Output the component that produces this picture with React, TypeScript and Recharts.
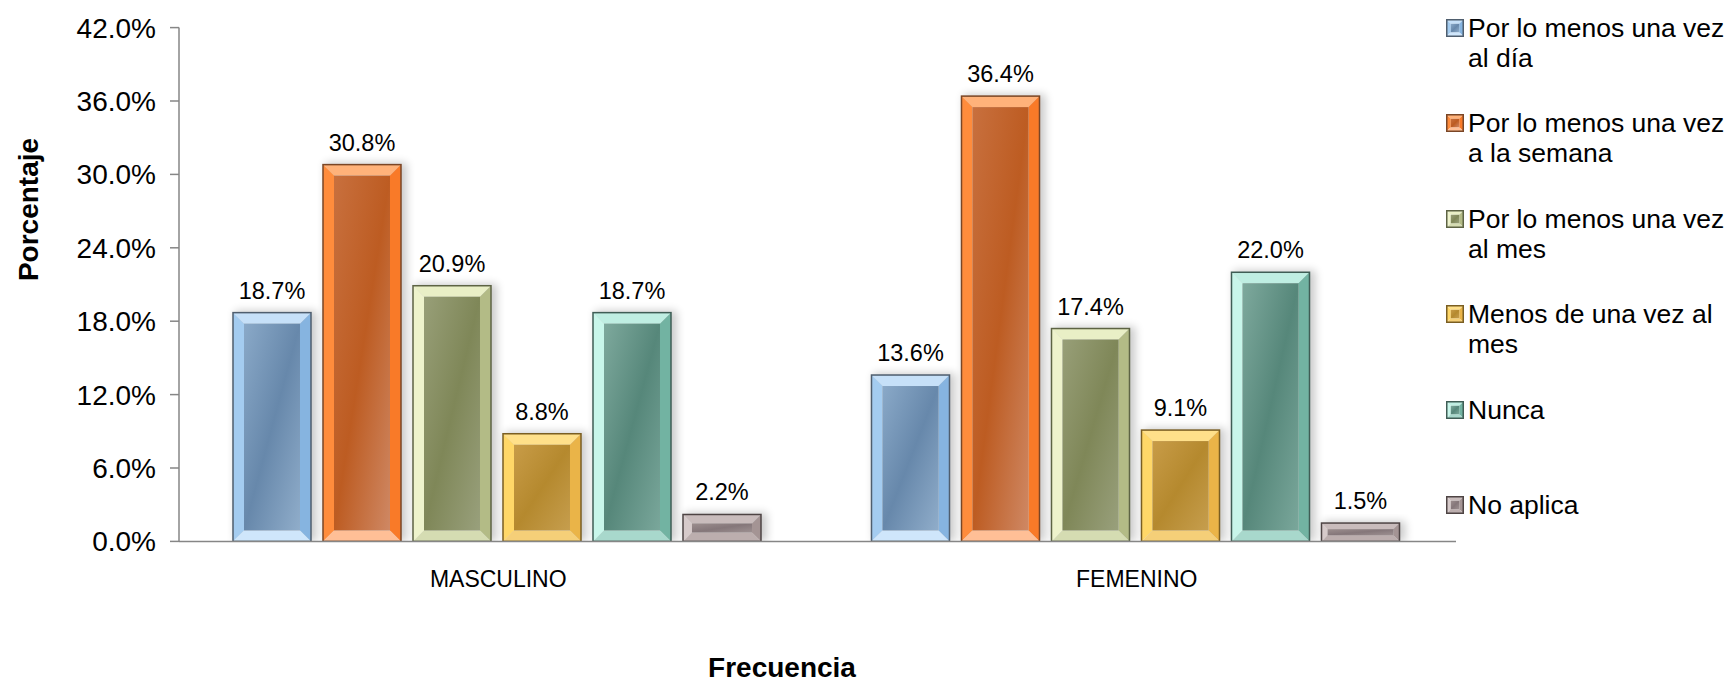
import React from 'react';
import { BarChart, Bar, XAxis, YAxis, LabelList, Legend } from 'recharts';

const categories = ['MASCULINO', 'FEMENINO'];
const seriesNames = [
  'Por lo menos una vez al día',
  'Por lo menos una vez a la semana',
  'Por lo menos una vez al mes',
  'Menos de una vez al mes',
  'Nunca',
  'No aplica',
];
const alDia = [18.7, 13.6];
const semana = [30.8, 36.4];
const mes = [20.9, 17.4];
const menosMes = [8.8, 9.1];
const nunca = [18.7, 22.0];
const noAplica = [2.2, 1.5];
const yTicks = [0, 6, 12, 18, 24, 30, 36, 42];

const seriesValues = [alDia, semana, mes, menosMes, nunca, noAplica];
const data = categories.map((c, i) => {
  const row: any = { category: c };
  seriesValues.forEach((v, k) => {
    row['s' + k] = v[i];
  });
  return row;
});

const FONT = '"Liberation Sans", Arial, Helvetica, sans-serif';

const palettes = [
  { stroke: '#4f5e6e', top: '#c6e0f8', left: '#a4ccf0', right: '#86b4e0', bottom: '#cfe6fb', in1: '#8aa9c8', in2: '#6788ab', in3: '#90adca' },
  { stroke: '#7a4626', top: '#ffb27a', left: '#ff8c3c', right: '#f97a28', bottom: '#ffbf96', in1: '#c8703e', in2: '#bd5c22', in3: '#cf8864' },
  { stroke: '#5d6344', top: '#e9efc6', left: '#eef3cc', right: '#b3bb86', bottom: '#d5dcb2', in1: '#989f78', in2: '#7f8758', in3: '#99a07c' },
  { stroke: '#7a5e22', top: '#ffe08a', left: '#ffd768', right: '#eab448', bottom: '#f5cf78', in1: '#c89c48', in2: '#b5892e', in3: '#c69e4e' },
  { stroke: '#3f5d55', top: '#bfeee2', left: '#c8f6ea', right: '#72b3a2', bottom: '#a8d8cc', in1: '#7ea99d', in2: '#56877a', in3: '#7aa79b' },
  { stroke: '#4e4444', top: '#c9bcbc', left: '#d6caca', right: '#a49494', bottom: '#bcaeae', in1: '#9c8e8e', in2: '#85777a', in3: '#9d9091' },
];

const bevel = (pi: number, x: number, y: number, w: number, h: number, b: number, id: string, shadow: boolean) => {
  const p = palettes[pi];
  const x2 = x + w;
  const y2 = y + h;
  return (
    <g>
      <defs>
        <linearGradient id={id} x1="0" y1="0" x2="1" y2="1">
          <stop offset="0%" stopColor={p.in1} />
          <stop offset="50%" stopColor={p.in2} />
          <stop offset="100%" stopColor={p.in3} />
        </linearGradient>
        {shadow && (
          <filter id={id + 'f'} x="-30%" y="-30%" width="160%" height="160%">
            <feGaussianBlur stdDeviation="4" />
          </filter>
        )}
      </defs>
      {shadow && (
        <rect x={x + 2} y={y - 2} width={w + 4} height={h + 2} fill="#000" opacity={0.2} filter={`url(#${id}f)`} />
      )}
      <polygon points={`${x},${y} ${x2},${y} ${x2 - b},${y + b} ${x + b},${y + b}`} fill={p.top} />
      <polygon points={`${x},${y} ${x + b},${y + b} ${x + b},${y2 - b} ${x},${y2}`} fill={p.left} />
      <polygon points={`${x2},${y} ${x2},${y2} ${x2 - b},${y2 - b} ${x2 - b},${y + b}`} fill={p.right} />
      <polygon points={`${x},${y2} ${x + b},${y2 - b} ${x2 - b},${y2 - b} ${x2},${y2}`} fill={p.bottom} />
      <rect x={x + b} y={y + b} width={Math.max(0, w - 2 * b)} height={Math.max(0, h - 2 * b)} fill={`url(#${id})`} />
      <rect x={x} y={y} width={w} height={h} fill="none" stroke={p.stroke} strokeWidth={1.5} />
    </g>
  );
};

const makeShape = (pi: number) => (props: any) => {
  const { x, y, width, height, index } = props;
  if (!height || height <= 0) return <g />;
  const b = Math.min(11, height / 3, width / 4);
  return bevel(pi, x, y, width, height, b, `bar${pi}_${index}`, true);
};

const fmt = (v: any) => `${Number(v).toFixed(1)}%`;

const renderLegend = () => (
  <div style={{ fontFamily: FONT, fontSize: 26.5, color: '#000' }}>
    {seriesNames.map((n, i) => (
      <div key={i} style={{ display: 'flex', alignItems: 'flex-start', height: 95.5 }}>
        <svg width={18} height={18} style={{ marginTop: 6, marginRight: 4, flex: 'none' }}>
          {bevel(i, 0.75, 0.75, 16.5, 16.5, 4, `leg${i}`, false)}
        </svg>
        <div style={{ width: 265, lineHeight: '30px' }}>{n}</div>
      </div>
    ))}
  </div>
);

export default function App() {
  return (
    <div style={{ position: 'absolute', left: 0, top: 0, width: 1729, height: 685, background: '#fff' }}>
      <BarChart
        width={1729}
        height={685}
        data={data}
        margin={{ top: 27.6, right: 273, bottom: 83.6, left: 0 }}
        barCategoryGap={54}
        barGap={12}
      >
        <XAxis
          dataKey="category"
          height={60}
          tickLine={false}
          tickSize={0}
          tickMargin={29.6}
          axisLine={{ stroke: '#868686', strokeWidth: 1.5 }}
          tick={{ fill: '#000', fontSize: 23, fontFamily: FONT }}
        />
        <YAxis
          width={179}
          domain={[0, 42]}
          ticks={yTicks}
          tickFormatter={fmt}
          tickSize={9}
          tickMargin={14}
          axisLine={{ stroke: '#868686', strokeWidth: 1.5 }}
          tickLine={{ stroke: '#868686', strokeWidth: 1.5 }}
          tick={{ fill: '#000', fontSize: 28, fontFamily: FONT }}
          allowDataOverflow
        />
        <Legend
          layout="vertical"
          align="center"
          verticalAlign="middle"
          content={renderLegend}
          wrapperStyle={{ left: 1446, top: 12.6, width: 283, height: 600 }}
        />
        {seriesNames.map((n, i) => (
          <Bar key={i} dataKey={'s' + i} name={n} fill={palettes[i].in2} shape={makeShape(i)} isAnimationActive={false}>
            <LabelList
              dataKey={'s' + i}
              position="top"
              offset={14}
              formatter={fmt}
              style={{ fill: '#000', fontSize: 23.5, fontFamily: FONT }}
            />
          </Bar>
        ))}
        <text
          x={28}
          y={209.5}
          transform="rotate(-90 28 209.5)"
          textAnchor="middle"
          dy="0.36em"
          style={{ fontFamily: FONT, fontSize: 28, fontWeight: 'bold', fill: '#000' }}
        >
          Porcentaje
        </text>
        <text
          x={782}
          y={677}
          textAnchor="middle"
          style={{ fontFamily: FONT, fontSize: 28, fontWeight: 'bold', fill: '#000' }}
        >
          Frecuencia
        </text>
      </BarChart>
    </div>
  );
}
